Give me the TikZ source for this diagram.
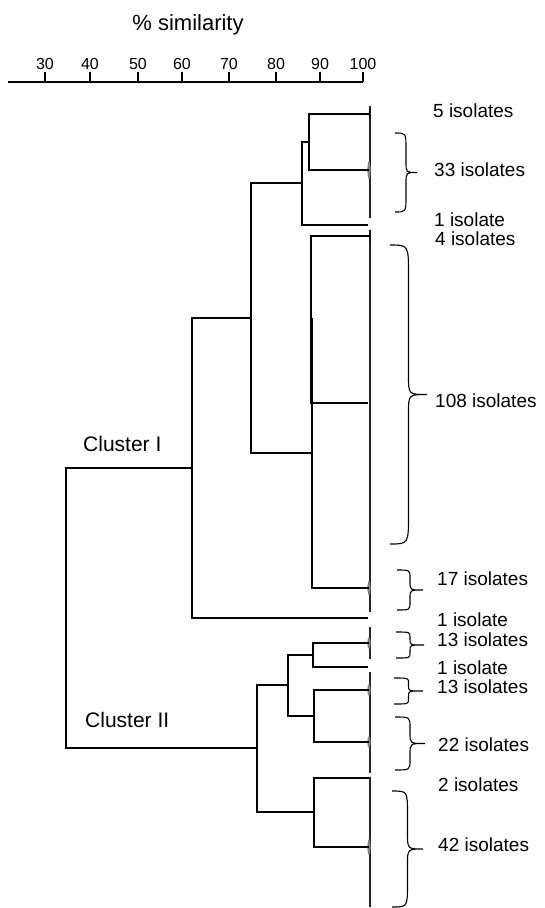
\documentclass[tikz,border=0pt]{standalone}
\usepackage{fontspec}
\setmainfont{Liberation Sans}
\usetikzlibrary{positioning}

\begin{document}
\begin{tikzpicture}[
    x=1pt, y=-1pt,
    branch/.style={line width=1.1pt},
    leaves/.style={line width=1.4pt, black!85},
    isolates/.style={anchor=west, inner sep=0pt, font=\fontsize{19}{19}\selectfont},
    cluster/.style={anchor=west, inner sep=0pt, font=\fontsize{21}{21}\selectfont},
    scalenum/.style={inner sep=0pt, font=\fontsize{16}{16}\selectfont},
    heading/.style={inner sep=0pt, anchor=base, font=\fontsize{22}{22}\selectfont},
    pics/bracket/.style args={#1/#2}{code={
        \pgfmathsetmacro\tipc{min(#2/2,#1/5)}
        \pgfmathsetmacro\endc{min(0.8*#2,#1/5)}
        \draw[line width=1.1pt] (0,0) .. controls ({#2/2},0) .. ({#2/2},\endc)
            -- ({#2/2},{#1/2-\tipc}) .. controls ({#2/2},{#1/2}) .. (#2,{#1/2})
            .. controls ({#2/2},{#1/2}) .. ({#2/2},{#1/2+\tipc})
            -- ({#2/2},{#1-\endc}) .. controls ({#2/2},#1) .. (0,#1);
    }}
]
\useasboundingbox (0,0) rectangle (544,908);

% Scale
\node[heading] (title) at (188,30) {\% similarity};
\coordinate (a0) at (8,82);
\coordinate (a100) at (363,82);
\draw[branch] (a0) -- (a100);
\coordinate (t30) at (45,72);
\coordinate (t40) at (90,72);
\coordinate (t50) at (138,72);
\coordinate (t60) at (182,72);
\coordinate (t70) at (229,72);
\coordinate (t80) at (276,72);
\coordinate (t90) at (320,72);
\coordinate (t100) at (363,72);
\draw[branch] (t30) -- (t30 |- a0);
\draw[branch] (t40) -- (t40 |- a0);
\draw[branch] (t50) -- (t50 |- a0);
\draw[branch] (t60) -- (t60 |- a0);
\draw[branch] (t70) -- (t70 |- a0);
\draw[branch] (t80) -- (t80 |- a0);
\draw[branch] (t90) -- (t90 |- a0);
\draw[branch] (t100) -- (a100);
\node[scalenum, above=2pt of t30] (n30) {30};
\node[scalenum, above=2pt of t40] (n40) {40};
\node[scalenum, above=2pt of t50] (n50) {50};
\node[scalenum, above=2pt of t60] (n60) {60};
\node[scalenum, above=2pt of t70] (n70) {70};
\node[scalenum, above=2pt of t80] (n80) {80};
\node[scalenum, above=2pt of t90] (n90) {90};
\node[scalenum, above=2pt of t100] (n100) {100};

% Leaves
\coordinate (lA) at (369,114);
\coordinate (lB) at (369,170);
\coordinate (lC) at (368,225);
\coordinate (lD) at (369,236);
\coordinate (lE) at (368,403);
\coordinate (lF) at (369,588);
\coordinate (lG) at (368,618);
\coordinate (lH) at (369,643);
\coordinate (lI) at (368,667);
\coordinate (lJ) at (369,690);
\coordinate (lK) at (369,742);
\coordinate (lL) at (369,778);
\coordinate (lM) at (369,847);
\draw[leaves] (370,106) -- (370,218);
\draw[leaves] (370,230) -- (370,612);
\draw[leaves] (370,627) -- (370,659);
\draw[leaves] (370,672) -- (370,773);
\draw[leaves] (370,777) -- (370,907);
\draw[line width=0.8pt] (lA) -- (370,110) -- (370,118) -- cycle;
\draw[line width=0.8pt] (lD) -- (370,232) -- (370,240) -- cycle;
\fill[gray] (lB) ellipse (1.6 and 9);
\fill[gray] (lF) ellipse (1.6 and 7);
\fill[gray] (lH) ellipse (1.6 and 6);
\fill[gray] (lJ) ellipse (1.6 and 6);
\fill[gray] (lK) ellipse (1.6 and 6);
\fill[gray] (lM) ellipse (1.6 and 8);

% Joins
\coordinate (jAB) at (309,142);
\coordinate (jABC) at (302,183);
\coordinate (jDE) at (311,319);
\coordinate (jDEF) at (312,453);
\coordinate (jI) at (251,318);
\coordinate (jIG) at (192,468);
\coordinate (jHI) at (313,655);
\coordinate (jJK) at (314,716);
\coordinate (jHK) at (288,685);
\coordinate (jLM) at (314,812);
\coordinate (jII) at (257,748);
\coordinate (root) at (66,608);

% Branches
\draw[branch] (lA) -| (jAB) |- (lB);
\draw[branch] (jAB) -| (jABC) |- (lC);
\draw[branch] (lD) -| (jDE) |- (lE);
\draw[branch] (jDE) -| (jDEF) |- (lF);
\draw[branch] (jABC) -| (jI) |- (jDEF);
\draw[branch] (jI) -| (jIG) |- (lG);
\draw[branch] (lH) -| (jHI) |- (lI);
\draw[branch] (lJ) -| (jJK) |- (lK);
\draw[branch] (jHI) -| (jHK) |- (jJK);
\draw[branch] (lL) -| (jLM) |- (lM);
\draw[branch] (jHK) -| (jII) |- (jLM);
\draw[branch] (jIG) -| (root) |- (jII);

% Clusters
\node[cluster] (c1) at (83,444) {Cluster I};
\node[cluster] (c2) at (85,720) {Cluster II};

% Brackets
\pic at (395,133) {bracket=79/22};
\pic at (390,245) {bracket=299/37};
\pic at (397,570) {bracket=40/26};
\pic at (396,632) {bracket=26/28};
\pic at (394,678) {bracket=26/29};
\pic at (395,717) {bracket=53/30};
\pic at (392,791) {bracket=116/31};

% Counts
\node[isolates] (i5) at (433,111) {5 isolates};
\node[isolates] (i33) at (434,170) {33 isolates};
\node[isolates] (i1a) at (434,220) {1 isolate};
\node[isolates] (i4) at (435,239) {4 isolates};
\node[isolates] (i108) at (435,401) {108 isolates};
\node[isolates] (i17) at (437,579) {17 isolates};
\node[isolates] (i1b) at (437,620) {1 isolate};
\node[isolates] (i13a) at (437,640) {13 isolates};
\node[isolates] (i1c) at (437,668) {1 isolate};
\node[isolates] (i13b) at (437,687) {13 isolates};
\node[isolates] (i22) at (438,745) {22 isolates};
\node[isolates] (i2) at (438,785) {2 isolates};
\node[isolates] (i42) at (438,845) {42 isolates};

\end{tikzpicture}
\end{document}
